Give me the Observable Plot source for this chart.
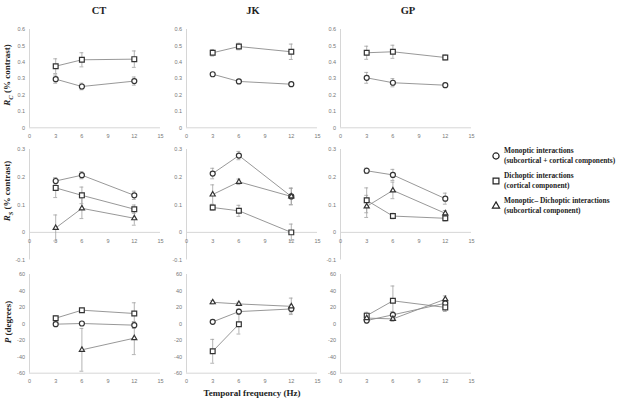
<!DOCTYPE html>
<html>
<head>
<meta charset="utf-8">
<script src="https://cdn.jsdelivr.net/npm/d3@7"></script>
<script src="https://cdn.jsdelivr.net/npm/@observablehq/plot@0.6"></script>
<style>
  html, body { margin: 0; padding: 0; background: #fff; }
  #fig { position: relative; width: 629px; height: 400px; overflow: hidden;
         font-family: "Liberation Serif", "Times New Roman", serif; color: #222; }
  .panel { position: absolute; }
  .title { position: absolute; font-weight: bold; font-size: 10.5px; white-space: nowrap;
           transform: translate(-50%, -50%); }
  .ylab { position: absolute; font-weight: bold; font-size: 9px; white-space: nowrap;
          transform: translate(-50%, -50%) rotate(-90deg); }
  .xlab { position: absolute; font-weight: bold; font-size: 9px; white-space: nowrap;
          transform: translate(-50%, -50%); }
  .leg { position: absolute; font-weight: bold; font-size: 7.4px; line-height: 10.5px; white-space: nowrap; }
  .legsym { position: absolute; overflow: visible; }
</style>
</head>
<body>
<div id="fig"></div>
<script>
// Subjects (columns) and the temporal frequencies tested (Hz)
const subjects = ["CT", "JK", "GP"];
const freqs = [3, 6, 12];

// Tick labels
const xTicks = [0, 3, 6, 9, 12, 15];
const rcTicks = [0, 0.1, 0.2, 0.3, 0.4, 0.5, 0.6];
const rsTicks = [-0.1, 0, 0.1, 0.2, 0.3];
const pTicks = [-60, -40, -20, 0, 20, 40, 60];

// Rc (% contrast): one row per subject (CT, JK, GP), values at 3, 6, 12 Hz
const rcMonoptic    = [[0.297, 0.252, 0.285], [0.327, 0.283, 0.266], [0.305, 0.275, 0.260]];
const rcMonopticErr = [[0.025, 0.020, 0.025], [0.010, 0.008, 0.008], [0.033, 0.025, 0.012]];
const rcDichoptic    = [[0.376, 0.415, 0.419], [0.458, 0.496, 0.464], [0.458, 0.464, 0.429]];
const rcDichopticErr = [[0.045, 0.043, 0.050], [0.020, 0.020, 0.047], [0.040, 0.040, 0.015]];

// Rs (% contrast)
const rsMonoptic    = [[0.186, 0.207, 0.134], [0.213, 0.278, 0.130], [0.223, 0.208, 0.122]];
const rsMonopticErr = [[0.012, 0.013, 0.015], [0.019, 0.015, 0.030], [0.010, 0.020, 0.020]];
const rsDichoptic    = [[0.161, 0.134, 0.084], [0.090, 0.078, 0.000], [0.116, 0.059, 0.051]];
const rsDichopticErr = [[0.035, 0.030, 0.015], [0.010, 0.020, 0.030], [0.045, 0.010, 0.010]];
const rsDifference    = [[0.016, 0.087, 0.051], [0.137, 0.183, 0.130], [0.094, 0.152, 0.069]];
const rsDifferenceErr = [[0.047, 0.037, 0.025], [0.035, 0.010, 0.030], [0.040, 0.030, 0.010]];

// P (degrees); null where no estimate was obtained
const pMonoptic    = [[-0.4, 0.4, -1.6], [2.4, 14.9, 18.1], [4, 11, 25]];
const pMonopticErr = [[2, 2, 4], [2, 3, 5], [3, 4, 3]];
const pDichoptic    = [[6.9, 16.6, 12.6], [-33.4, -0.4, null], [10, 28, 20]];
const pDichopticErr = [[3, 2, 13], [14.5, 12, 0], [4, 18, 5]];
const pDifference    = [[null, -31.6, -17.4], [26.2, 24.2, 21.3], [7, 6, 30]];
const pDifferenceErr = [[0, 26, 20], [2, 2, 10], [3, 3, 4]];

// Panel geometry: pixel of x = 0 per column, plot-area top/bottom per row
const colX = [29, 186, 340];
const plotW = 131;
const rowsGeom = [
  { top: 29,  bottom: 127.3, domain: [0, 0.6],    ticks: rcTicks, base: 0 },
  { top: 149, bottom: 259.5, domain: [-0.1, 0.3], ticks: rsTicks, base: 0 },
  { top: 274, bottom: 372.7, domain: [-60, 60],   ticks: pTicks,  base: -60 }
];
const M = { left: 30, right: 12, top: 8, bottom: 14 };

function toRows(series, values, errors, s) {
  return freqs.map((f, i) => ({ series, f, v: values[s][i], e: errors[s][i] }))
              .filter(d => d.v != null);
}

const measures = [
  [["mono", rcMonoptic, rcMonopticErr], ["dich", rcDichoptic, rcDichopticErr]],
  [["mono", rsMonoptic, rsMonopticErr], ["dich", rsDichoptic, rsDichopticErr], ["diff", rsDifference, rsDifferenceErr]],
  [["mono", pMonoptic, pMonopticErr], ["dich", pDichoptic, pDichopticErr], ["diff", pDifference, pDifferenceErr]]
];
const symbols = { mono: "circle", dich: "square", diff: "triangle" };
const radii = { mono: 2.5, dich: 2.7, diff: 1.9 };

const fig = document.getElementById("fig");
const lineGray = "#8c8c8c", errGray = "#a0a0a0", markStroke = "#333", axisGray = "#d6d6d6";

measures.forEach((seriesList, r) => {
  const g = rowsGeom[r];
  subjects.forEach((subj, c) => {
    const data = seriesList.flatMap(([name, vals, errs]) => toRows(name, vals, errs, c));
    const width = M.left + plotW + M.right;
    const height = M.top + (g.bottom - g.top) + M.bottom;
    const capHalf = 0.22;
    const chart = Plot.plot({
      width, height,
      marginLeft: M.left, marginRight: M.right, marginTop: M.top, marginBottom: M.bottom,
      x: { domain: [0, 15], axis: null },
      y: { domain: g.domain, axis: null },
      style: { background: "transparent", overflow: "visible" },
      marks: [
        Plot.ruleX([0], { y1: g.domain[0], y2: g.domain[1], stroke: axisGray, strokeWidth: 1 }),
        Plot.ruleY([g.base], { x1: 0, x2: 15, stroke: axisGray, strokeWidth: 1 }),
        Plot.text(g.ticks, { x: 0, y: d => d, text: d => String(d), dx: -4.5, textAnchor: "end",
          fontSize: 5.5, fill: "#777", fontFamily: "Liberation Sans, Arial, sans-serif" }),
        Plot.text(xTicks, { x: d => d, y: g.base, text: d => String(d), dy: 8.5,
          fontSize: 5.5, fill: "#777", fontFamily: "Liberation Sans, Arial, sans-serif" }),
        Plot.ruleX(data, { x: "f", y1: d => d.v - d.e, y2: d => d.v + d.e, stroke: errGray, strokeWidth: 0.8 }),
        Plot.ruleY(data.filter(d => d.e > 0), { y: d => d.v + d.e, x1: d => d.f - capHalf, x2: d => d.f + capHalf, stroke: errGray, strokeWidth: 0.8 }),
        Plot.ruleY(data.filter(d => d.e > 0), { y: d => d.v - d.e, x1: d => d.f - capHalf, x2: d => d.f + capHalf, stroke: errGray, strokeWidth: 0.8 }),
        Plot.line(data, { x: "f", y: "v", z: "series", stroke: lineGray, strokeWidth: 0.9 }),
        ...["mono", "dich", "diff"].map(s =>
          Plot.dot(data.filter(d => d.series === s), { x: "f", y: "v", symbol: symbols[s],
            r: radii[s], fill: "#fff", stroke: markStroke, strokeWidth: 1.2 }))
      ]
    });
    chart.classList.add("panel");
    chart.style.left = (colX[c] - M.left) + "px";
    chart.style.top = (g.top - M.top) + "px";
    fig.appendChild(chart);
  });
});

// Column titles
const titleX = [99, 253, 408];
subjects.forEach((s, i) => {
  const t = document.createElement("div");
  t.className = "title";
  t.textContent = s;
  t.style.left = titleX[i] + "px";
  t.style.top = "10px";
  fig.appendChild(t);
});

// Row labels
const yLabels = [
  { html: '<i>R</i><sub style="font-size:6.5px"><i>C</i></sub> (% contrast)', y: 75 },
  { html: '<i>R</i><sub style="font-size:6.5px"><i>S</i></sub> (% contrast)', y: 191 },
  { html: '<i>P</i> (degrees)', y: 322 }
];
yLabels.forEach(l => {
  const t = document.createElement("div");
  t.className = "ylab";
  t.innerHTML = l.html;
  t.style.left = "8px";
  t.style.top = l.y + "px";
  fig.appendChild(t);
});

// Shared x label
const xl = document.createElement("div");
xl.className = "xlab";
xl.textContent = "Temporal frequency (Hz)";
xl.style.left = "252px";
xl.style.top = "393px";
fig.appendChild(xl);

// Legend
const legendItems = [
  { sym: d3.symbolCircle, size: 30, y: 156, lines: ["Monoptic interactions", "(subcortical + cortical components)"] },
  { sym: d3.symbolSquare, size: 34, y: 181, lines: ["Dichoptic interactions", "(cortical component)"] },
  { sym: d3.symbolTriangle, size: 22, y: 206, lines: ["Monoptic\u2013 Dichoptic interactions", "(subcortical component)"] }
];
legendItems.forEach(item => {
  const svg = d3.create("svg").attr("class", "legsym").attr("width", 12).attr("height", 12)
    .style("left", (496 - 6) + "px").style("top", (item.y - 6) + "px");
  svg.append("path").attr("d", d3.symbol(item.sym, item.size)()).attr("transform", "translate(6,6)")
    .attr("fill", "#fff").attr("stroke", "#222").attr("stroke-width", 1.2);
  fig.appendChild(svg.node());
  const t = document.createElement("div");
  t.className = "leg";
  t.innerHTML = item.lines.join("<br>");
  t.style.left = "504px";
  t.style.top = (item.y - 10.5) + "px";
  fig.appendChild(t);
});
</script>
</body>
</html>
